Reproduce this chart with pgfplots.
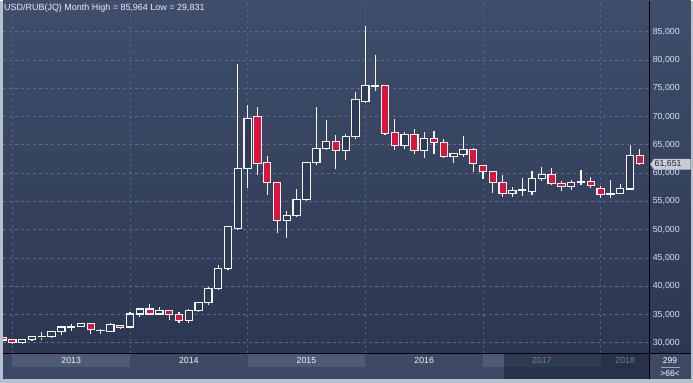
\documentclass[border=0pt]{standalone}
\usepackage{fontspec}
\setmainfont{Liberation Sans}
\usepackage{pgfplots}
\usepgfplotslibrary{statistics}
\pgfplotsset{compat=1.18}
\usepackage{pgfplotstable}

\definecolor{framec}{HTML}{B7C1CE}
\definecolor{bgtop}{HTML}{404E6B}
\definecolor{bgbot}{HTML}{2C3752}
\definecolor{barbg}{HTML}{3D4A67}
\definecolor{bandc}{HTML}{4E5B78}
\definecolor{gridc}{HTML}{5A6A8A}
\definecolor{candred}{HTML}{DC143C}
\definecolor{candhollow}{HTML}{2E3A56}
\definecolor{ticktxt}{HTML}{D8E4F6}
\definecolor{ovl}{RGB}{22,31,53}
\definecolor{tagc}{HTML}{C9CDD3}
\definecolor{tagtxt}{HTML}{1E2A3E}

% monthly OHLC, i = months since Jan 2013
\pgfplotstableread{
i  o      h      l      c
-1 30.90  31.00  30.40  30.50
0  30.55  30.65  29.95  30.00
1  30.00  30.70  29.83  30.55
2  30.55  31.10  30.50  31.06
3  31.06  32.00  30.50  31.10
4  31.06  32.05  30.88  32.00
5  32.00  33.06  31.40  32.80
6  32.80  33.40  32.05  32.95
7  32.95  33.45  32.75  33.36
8  33.36  33.50  31.50  32.30
9  32.15  32.45  31.50  32.25
10 32.05  33.60  32.00  33.20
11 33.10  33.20  32.40  32.75
12 32.80  35.50  32.70  35.10
13 35.10  36.25  34.50  36.00
14 36.00  36.95  35.00  35.10
15 35.10  36.40  34.90  35.65
16 35.65  35.70  34.00  34.95
17 34.95  35.40  33.47  33.90
18 33.90  36.00  33.60  35.65
19 35.65  37.30  35.50  37.07
20 37.07  39.95  36.70  39.55
21 39.55  43.85  39.40  43.10
22 43.10  50.60  43.00  50.50
23 50.20  79.30  50.00  60.80
24 60.80  72.00  57.30  69.60
25 70.00  71.60  59.60  61.65
26 61.80  63.10  56.05  58.30
27 58.30  58.50  49.45  51.60
28 51.60  53.30  48.50  52.45
29 52.45  57.20  52.30  55.30
30 55.30  61.90  55.20  61.80
31 61.80  71.70  61.50  64.30
32 64.30  69.40  64.20  65.55
33 65.55  66.80  60.80  63.95
34 63.95  66.95  62.35  66.40
35 66.40  74.40  66.05  72.95
36 72.60  85.964 72.50  75.45
37 75.40  80.80  74.50  75.45
38 75.45  75.50  66.80  66.95
39 67.13  69.60  64.13  64.84
40 64.84  67.30  64.30  66.78
41 66.78  67.84  63.42  63.95
42 63.95  67.30  62.70  66.07
43 66.07  67.50  63.40  65.37
44 65.37  66.07  62.70  62.90
45 62.90  63.60  61.83  63.42
46 63.24  66.60  62.90  64.13
47 64.13  64.48  60.24  61.65
48 61.30  61.40  59.00  60.24
49 60.24  60.40  56.50  58.30
50 58.30  59.70  55.80  56.35
51 56.35  57.60  55.80  56.88
52 56.88  59.18  56.00  57.05
53 56.70  60.40  56.17  59.00
54 59.00  61.10  58.65  59.70
55 59.70  60.95  58.00  58.10
56 58.10  58.65  56.88  57.60
57 57.60  58.80  57.05  58.30
58 58.30  60.60  57.90  58.47
59 58.47  59.35  57.40  57.76
60 57.23  57.76  55.64  56.17
61 56.20  58.80  55.64  56.45
62 56.45  58.10  56.30  57.23
63 57.20  65.00  57.10  63.07
64 63.07  64.30  61.40  61.651
}\ohlc

\begin{document}
\begin{tikzpicture}[x=1bp,y=1bp]
% outer frame
\fill[framec] (0,0) rectangle (693,382);
% main panel gradient (plot + right scale)
\shade[top color=bgtop, bottom color=bgbot] (3,29.3) rectangle (690.5,382);
% bottom bar
\fill[barbg] (3,3.5) rectangle (690.5,29.3);
% year bands (2013, 2015, 2017)
\fill[bandc] (12.3,15.3) rectangle (130,28.2);
\fill[bandc] (247.6,15.3) rectangle (365.3,28.2);
\fill[bandc] (483,15.3) rectangle (600.6,28.2);

\begin{axis}[
  at={(3bp,29.3bp)}, anchor=south west,
  scale only axis, width=646.3bp, height=352.7bp,
  xmin=-0.95, xmax=64.96, ymin=28.16, ymax=90.48,
  axis line style={draw=none},
  major tick length=0, minor tick length=0,
  ytick={30,35,40,45,50,55,60,65,70,75,80,85},
  yticklabels={{30,000},{35,000},{40,000},{45,000},{50,000},{55,000},{60,000},{65,000},{70,000},{75,000},{80,000},{85,000}},
  yticklabel pos=right,
  yticklabel style={anchor=west, font=\fontsize{8.8}{10}\selectfont, text=ticktxt},
  xtick={6,18,30,42,54,62.5},
  xticklabels={2013,2014,2015,2016,2017,2018},
  xticklabel style={anchor=center, yshift=-7.6bp, font=\fontsize{8.8}{10}\selectfont, text=white!94!black},
  minor xtick={0,12,24,36,48,60},
  ymajorgrids, xminorgrids, xmajorgrids=false,
  grid style={gridc, line width=0.8bp, dash pattern=on 2.5bp off 3.5bp},
  minor grid style={gridc, line width=0.8bp, dash pattern=on 2.5bp off 3.5bp},
  boxplot/draw direction=y,
  boxplot/box extend=0.74,
  boxplot/whisker extend=0,
  candle/.style={draw=white!96!black, line width=1.15bp, solid, mark=none},
]
\pgfplotstablegetrowsof{\ohlc}
\pgfmathtruncatemacro{\lastrow}{\pgfplotsretval-1}
\pgfplotsforeachungrouped \rowi in {0,...,\lastrow}{%
  \pgfplotstablegetelem{\rowi}{i}\of\ohlc \let\vI\pgfplotsretval
  \pgfplotstablegetelem{\rowi}{o}\of\ohlc \let\vO\pgfplotsretval
  \pgfplotstablegetelem{\rowi}{h}\of\ohlc \let\vH\pgfplotsretval
  \pgfplotstablegetelem{\rowi}{l}\of\ohlc \let\vL\pgfplotsretval
  \pgfplotstablegetelem{\rowi}{c}\of\ohlc \let\vC\pgfplotsretval
  \ifdim\vC pt<\vO pt
    \edef\bodylo{\vC}\edef\bodyhi{\vO}\def\bodyfill{candred}%
  \else
    \edef\bodylo{\vO}\edef\bodyhi{\vC}\def\bodyfill{candhollow}%
  \fi
  \edef\doplot{\noexpand\addplot[candle, fill=\bodyfill, boxplot prepared={draw position=\vI, lower whisker=\vL, lower quartile=\bodylo, median=\bodylo, upper quartile=\bodyhi, upper whisker=\vH}] coordinates {};}%
  \doplot
}
\end{axis}

% dark overlay on the right part of the bottom bar
\fill[ovl, opacity=0.56] (504,3.5) rectangle (649.3,29.3);
% separators
\draw[black, line width=1.2bp] (3,29.3) -- (690.5,29.3);
\draw[black, line width=1.2bp] (649.3,3.5) -- (649.3,382);
% price tag
\fill[tagc] (650.2,218.4) -- (654,223.7) -- (690.5,223.7) -- (690.5,213.1) -- (654,213.1) -- cycle;
\node[anchor=west, inner sep=0pt, text=tagtxt, font=\fontsize{8.8}{10}\selectfont] at (654.5,218.2) {61,651};
% title
\node[anchor=west, inner sep=0pt, text=white!92!blue, font=\fontsize{9}{10}\selectfont] at (4,374.3) {USD/RUB(JQ) Month High = 85,964 Low = 29,831};
% bottom-right counter
\node[text=white, inner sep=0pt, font=\fontsize{8.5}{10}\selectfont] at (670,22.2) {299};
\draw[gray!70, line width=0.6bp] (661,15.8) -- (680,15.8);
\node[text=white, inner sep=0pt, font=\fontsize{8.5}{10}\selectfont] at (670,9.4) {>66<};
\end{tikzpicture}
\end{document}
